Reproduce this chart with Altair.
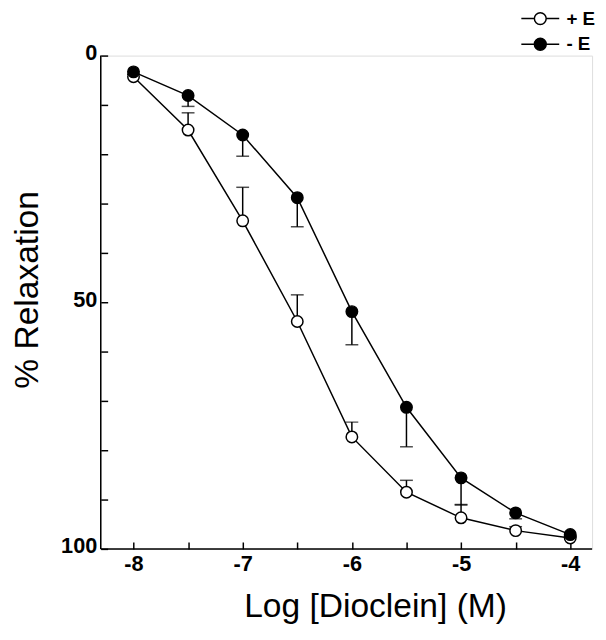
import altair as alt
import pandas as pd

# ---- data ----
log_conc = [-8, -7.5, -7, -6.5, -6, -5.5, -5, -4.5, -4]
plus_e = [4.3, 15.1, 33.5, 53.9, 77.3, 88.5, 93.7, 96.3, 97.8]      # open circles, "+ E"
plus_e_err = [0.5, 3.5, 6.8, 5.4, 3.0, 2.4, 2.7, 0.8, 0.5]
minus_e = [3.3, 8.1, 16.1, 28.8, 51.9, 71.3, 85.6, 92.7, 97.1]     # filled circles, "- E"
minus_e_err = [0.5, 2.2, 4.3, 5.9, 6.7, 8.0, 5.5, 1.2, 0.5]

series_names = ["+ E", "- E"]
x_ticks = [-8, -7.5, -7, -6.5, -6, -5.5, -5, -4.5, -4]
y_ticks = [0, 10, 20, 30, 40, 50, 60, 70, 80, 90, 100]
x_domain = [-8.3, -3.8]
y_domain = [0, 100]

rows = []
for x, v, e in zip(log_conc, plus_e, plus_e_err):
    rows.append({"x": x, "y": v, "yerr": v - e, "series": "+ E"})   # error drawn toward 0
for x, v, e in zip(log_conc, minus_e, minus_e_err):
    rows.append({"x": x, "y": v, "yerr": v + e, "series": "- E"})   # error drawn toward 100
df = pd.DataFrame(rows)

xscale = alt.Scale(domain=x_domain, nice=False, zero=False)
yscale = alt.Scale(domain=y_domain, reverse=True, nice=False, zero=False)

xaxis = alt.Axis(
    values=x_ticks,
    labelExpr="datum.value % 1 == 0 ? '' + datum.value : ''",
    title="Log [Dioclein] (M)",
    grid=False, domain=False, offset=-7, tickSize=7, tickWidth=1.5, tickColor="black",
    labelFont="Liberation Sans", labelFontSize=22, labelFontWeight="bold", labelColor="black",
    labelPadding=5, labelFlush=False, labelOverlap=False,
    titleFont="Liberation Sans", titleFontSize=34, titleFontWeight="normal", titleColor="black",
    titlePadding=16, titleX=278, titleAlign="center", titleAnchor="start",
)
yaxis = alt.Axis(
    values=y_ticks,
    labelExpr="datum.value % 50 == 0 ? '' + datum.value : ''",
    title="% Relaxation",
    grid=False, domain=False, offset=-7, tickSize=7, tickWidth=1.5, tickColor="black",
    labelFont="Liberation Sans", labelFontSize=22, labelFontWeight="bold", labelColor="black",
    labelPadding=4, labelOffset=-3, labelFlush=False, labelOverlap=False,
    titleFont="Liberation Sans", titleFontSize=34, titleFontWeight="normal", titleColor="black",
    titlePadding=16, titleY=237, titleAlign="center", titleAnchor="start",
)

base = alt.Chart(df)

lines = base.mark_line(color="black", strokeWidth=1.5).encode(
    x=alt.X("x:Q", scale=xscale, axis=xaxis),
    y=alt.Y("y:Q", scale=yscale, axis=yaxis),
    detail="series:N",
)

err_rules = base.mark_rule(color="black", strokeWidth=1.5).encode(
    x="x:Q", y="y:Q", y2="yerr:Q"
)
err_caps = base.mark_tick(color="black", orient="horizontal", size=13, thickness=1.5).encode(
    x="x:Q", y="yerr:Q"
)

# legend glyph: short line through a circle (circle radius = 1 unit)
legend_symbol = ("M-3.2,0L-1,0M1,0L3.2,0"
                 "M-1,0A1,1,0,1,1,1,0A1,1,0,1,1,-1,0Z")

points = base.mark_point(filled=True, size=135, stroke="black", strokeWidth=1.5, opacity=1).encode(
    x="x:Q", y="y:Q",
    fill=alt.Fill(
        "series:N",
        scale=alt.Scale(domain=series_names, range=["white", "black"]),
        legend=alt.Legend(
            title=None, orient="none", legendX=436, legendY=-47,
            symbolType=legend_symbol, symbolSize=144,
            symbolStrokeColor="black", symbolStrokeWidth=1.5,
            labelFont="Liberation Sans", labelFontSize=19, labelFontWeight="bold",
            labelColor="black", labelOffset=17, rowPadding=6, padding=0,
        ),
    ),
)

left_domain = alt.Chart(pd.DataFrame({"a": [0]})).mark_rule(color="black", strokeWidth=1.5).encode(
    x=alt.datum(x_domain[0]), y=alt.datum(y_domain[0]), y2=alt.datum(y_domain[1])
)
bottom_domain = alt.Chart(pd.DataFrame({"a": [0]})).mark_rule(color="black", strokeWidth=1.5).encode(
    y=alt.datum(y_domain[1]), x=alt.datum(x_domain[0]), x2=alt.datum(x_domain[1])
)

chart = alt.layer(
    left_domain, bottom_domain, lines, err_rules, err_caps, points
).properties(
    width=498, height=500,
    autosize=alt.AutoSizeParams(type="none"),
    padding={"left": 94, "top": 44, "right": 6, "bottom": 80},
).configure_view(stroke=None).configure(background="white")

chart.save("out.html", embed_options={"renderer": "svg", "actions": False})
